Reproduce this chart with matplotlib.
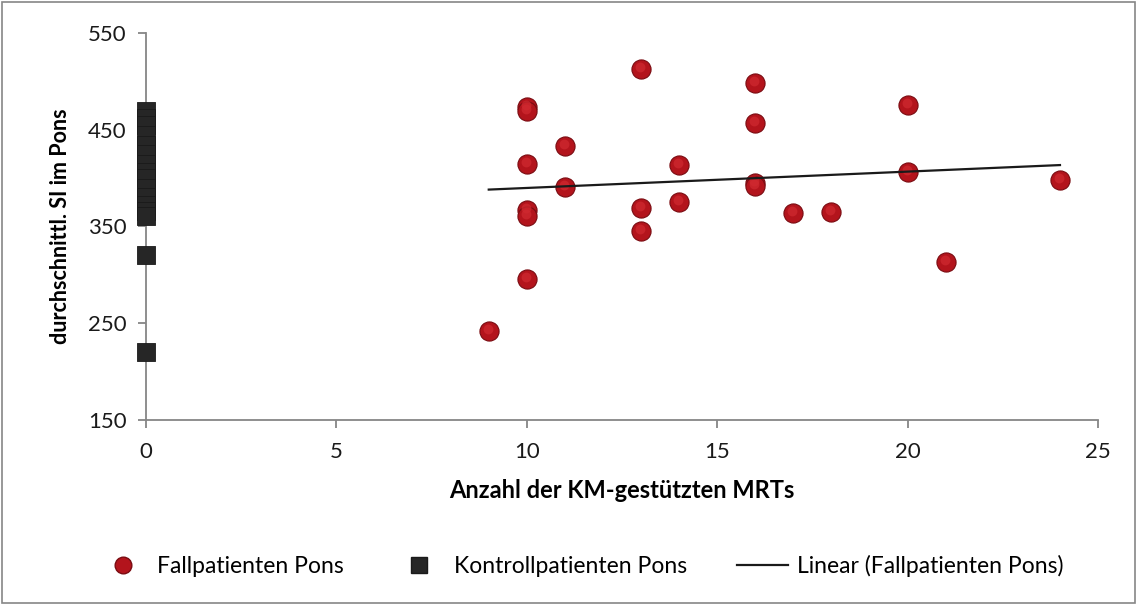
import numpy as np
import matplotlib.pyplot as plt
from matplotlib.lines import Line2D

# Fallpatienten (case patients)
fall_x = [9, 10, 10, 10, 10, 10, 10, 11, 11, 13, 13, 13, 14, 14, 16, 16, 16, 16, 17, 18, 20, 20, 21, 24]
fall_y = [242, 474, 469, 415, 367, 361, 296, 433, 391, 513, 369, 345, 414, 375, 498, 457, 395, 392, 364, 365, 476, 406, 313, 398]

# Kontrollpatienten (control patients), all at x = 0
kontroll_y = [469, 462, 455, 445, 434, 425, 415, 406, 400, 390, 380, 372, 366, 361, 321, 220]
kontroll_x = [0] * len(kontroll_y)

x_ticks = [0, 5, 10, 15, 20, 25]
y_ticks = [150, 250, 350, 450, 550]

plt.rcParams['font.family'] = ['Lato', 'DejaVu Sans']
grey = '#868686'

fig = plt.figure(figsize=(11.38, 6.05), dpi=100)
ax = fig.add_axes([0.1283, 0.3058, 0.8366, 0.6397])

ax.scatter(kontroll_x, kontroll_y, marker='s', s=165, color='#262626',
           edgecolors='#1a1a1a', linewidths=0.6, zorder=3, clip_on=False)
ax.scatter(fall_x, fall_y, marker='o', s=190, color='#b3141c',
           edgecolors='#7a0c12', linewidths=0.8, zorder=3)
ax.scatter(np.array(fall_x) - 0.03, np.array(fall_y) + 2, marker='o', s=50,
           color='#d02a30', linewidths=0, zorder=4, alpha=0.7)

# linear trend of Fallpatienten
k, d = np.polyfit(fall_x, fall_y, 1)
tx = np.array([min(fall_x), max(fall_x)])
ax.plot(tx, k * tx + d, color='#1a1a1a', lw=1.6, zorder=5)

ax.set_xlim(0, 25)
ax.set_ylim(150, 550)
ax.set_xticks(x_ticks)
ax.set_yticks(y_ticks)
for s in ['top', 'right']:
    ax.spines[s].set_visible(False)
for s in ['left', 'bottom']:
    ax.spines[s].set_color(grey)
    ax.spines[s].set_linewidth(1.3)
ax.tick_params(axis='both', colors=grey, length=6, width=1.3, labelsize=16,
               labelcolor='#1a1a1a')
ax.tick_params(axis='x', pad=10)
ax.tick_params(axis='y', pad=8)
ax.set_xlabel('Anzahl der KM-gestützten MRTs', fontsize=17, fontweight='bold', labelpad=12)
ax.set_ylabel('durchschnittl. SI im Pons', fontsize=15.5, fontweight='bold', labelpad=12)

handles = [
    Line2D([], [], marker='o', ls='', markersize=12, markerfacecolor='#b3141c',
           markeredgecolor='#7a0c12'),
    Line2D([], [], marker='s', ls='', markersize=11, markerfacecolor='#262626',
           markeredgecolor='#1a1a1a'),
    Line2D([], [], color='#1a1a1a', lw=1.6),
]
labels = ['Fallpatienten Pons', 'Kontrollpatienten Pons', 'Linear (Fallpatienten Pons)']
fig.legend(handles, labels, loc='center', bbox_to_anchor=(0.51, 0.064), ncol=3,
           frameon=False, fontsize=16.5, handlelength=2.2, handletextpad=0.4,
           columnspacing=2.2)

fig.patches.append(plt.Rectangle((0.002, 0.003), 0.995, 0.994, transform=fig.transFigure,
                                 fill=False, edgecolor=grey, lw=1.2))

fig.savefig('out.png', dpi=100)
